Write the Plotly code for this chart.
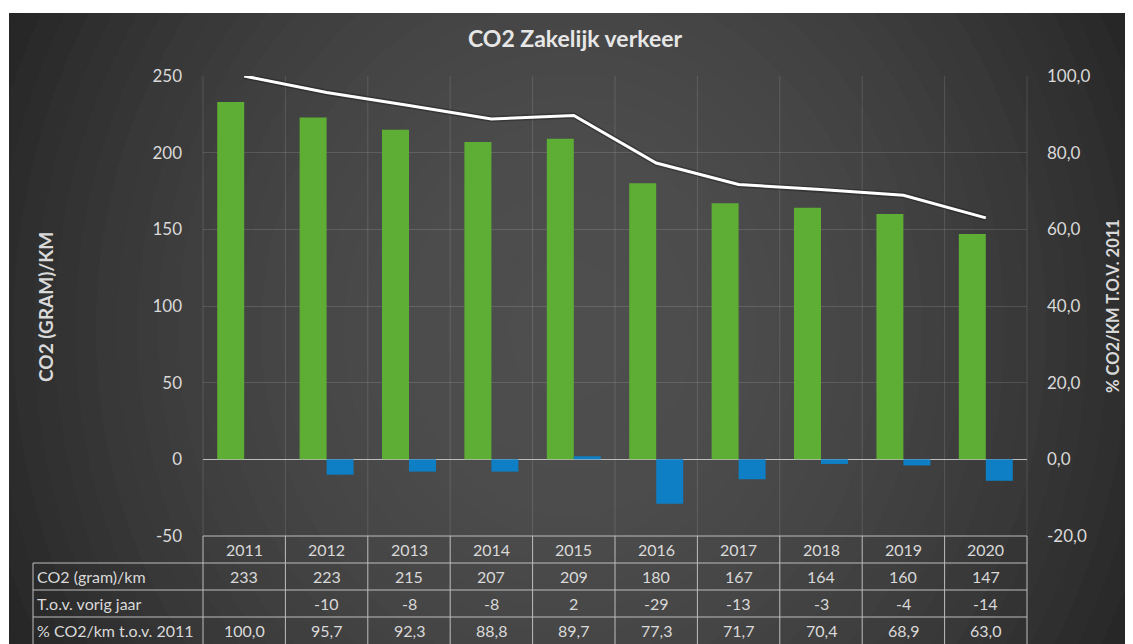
import plotly.graph_objects as go

# ---------------- data ----------------
years = ["2011", "2012", "2013", "2014", "2015", "2016", "2017", "2018", "2019", "2020"]
co2_gram_km = [233, 223, 215, 207, 209, 180, 167, 164, 160, 147]
tov_vorig_jaar = [None, -10, -8, -8, 2, -29, -13, -3, -4, -14]
pct_tov_2011 = [100.0, 95.7, 92.3, 88.8, 89.7, 77.3, 71.7, 70.4, 68.9, 63.0]
row_labels = ["CO2 (gram)/km", "T.o.v. vorig jaar", "% CO2/km t.o.v. 2011"]
left_tickvals = [-50, 0, 50, 100, 150, 200, 250]
left_ticktext = ["-50", "0", "50", "100", "150", "200", "250"]
right_tickvals = [-20, 0, 20, 40, 60, 80, 100]
right_ticktext = ["-20,0", "0,0", "20,0", "40,0", "60,0", "80,0", "100,0"]
title_text = "CO2 Zakelijk verkeer"
left_title = "CO2 (GRAM)/KM"
right_title = "% CO2/KM T.O.V. 2011"

# ---------------- layout geometry (screen pixels) ----------------
OFF = 8                      # page body margin in the browser
SCR_W, SCR_H = 1133, 644
W_FIG, H_FIG = SCR_W - OFF, SCR_H - OFF
L, R, T, B = 203, 1027, 76, 536   # plot area in screen pixels
PW, PH = R - L, B - T
ROW_H = 27

def px(x):
    return (x - L) / PW

def py(y):
    return (B - y) / PH

FONT = "Lato, 'Open Sans', sans-serif"
TXT = "#d9d9d9"
GRID = "rgba(255,255,255,0.13)"
TBL = "#bdbdbd"

fig = go.Figure()

fig.add_trace(go.Bar(x=years, y=co2_gram_km, name=row_labels[0],
                     marker=dict(color="#5eae35", line=dict(width=0)), yaxis="y"))
fig.add_trace(go.Bar(x=years, y=tov_vorig_jaar, name=row_labels[1],
                     marker=dict(color="#0e7fc4", line=dict(width=0)), yaxis="y"))
fig.add_trace(go.Scatter(x=years, y=pct_tov_2011, mode="lines", yaxis="y2",
                         line=dict(color="rgba(20,20,20,0.35)", width=6), hoverinfo="skip"))
fig.add_trace(go.Scatter(x=years, y=pct_tov_2011, mode="lines", name=row_labels[2], yaxis="y2",
                         line=dict(color="#ffffff", width=3)))

shapes = []
# background: radial gradient built from nested ellipses
cx, cy = 571, 330
rx, ry = 620, 700
def shade(r):
    v = 38 + 40 * (1 - min(r, 1.0) ** 2)
    v = int(round(v))
    return f"rgb({v},{v},{v})"
shapes.append(dict(type="rect", xref="paper", yref="paper", layer="below",
                   x0=px(9), x1=px(SCR_W + 20), y0=py(13), y1=py(SCR_H + 20),
                   fillcolor=shade(1.0), line=dict(width=0)))
n = 30
for k in range(n):
    s = 1.0 - k / n
    shapes.append(dict(type="circle", xref="paper", yref="paper", layer="below",
                       x0=px(cx - rx * s), x1=px(cx + rx * s),
                       y0=py(cy + ry * s), y1=py(cy - ry * s),
                       fillcolor=shade(s - 0.5 / n), line=dict(width=0)))
# white strips outside the chart frame
shapes.append(dict(type="rect", xref="paper", yref="paper", layer="below",
                   x0=px(-50), x1=px(9), y0=py(-50), y1=py(SCR_H + 50),
                   fillcolor="white", line=dict(width=0)))
shapes.append(dict(type="rect", xref="paper", yref="paper", layer="below",
                   x0=px(-50), x1=px(SCR_W + 50), y0=py(-50), y1=py(13),
                   fillcolor="white", line=dict(width=0)))

N = len(years)
# vertical gridlines at category boundaries
for i in range(N + 1):
    shapes.append(dict(type="line", xref="paper", yref="paper", layer="below",
                       x0=i / N, x1=i / N, y0=0, y1=1, line=dict(color=GRID, width=1)))

# data table lines
y_rows = [B + ROW_H * j for j in range(5)]
for i in range(N + 1):
    shapes.append(dict(type="line", xref="paper", yref="paper", layer="above",
                       x0=i / N, x1=i / N, y0=py(y_rows[0]), y1=py(SCR_H + 2),
                       line=dict(color=TBL, width=1)))
shapes.append(dict(type="line", xref="paper", yref="paper", layer="above",
                   x0=px(33), x1=px(33), y0=py(y_rows[1]), y1=py(SCR_H + 2),
                   line=dict(color=TBL, width=1)))
shapes.append(dict(type="line", xref="paper", yref="paper", layer="above",
                   x0=0, x1=1, y0=py(y_rows[0]), y1=py(y_rows[0]),
                   line=dict(color=TBL, width=1)))
for j in (1, 2, 3):
    shapes.append(dict(type="line", xref="paper", yref="paper", layer="above",
                       x0=px(33), x1=1, y0=py(y_rows[j]), y1=py(y_rows[j]),
                       line=dict(color=TBL, width=1)))

annotations = []
tf = dict(family=FONT, size=16, color=TXT)
def fmt_pct(v):
    return f"{v:.1f}".replace(".", ",")
rows = [
    years,
    [str(v) for v in co2_gram_km],
    ["" if v is None else str(v) for v in tov_vorig_jaar],
    [fmt_pct(v) for v in pct_tov_2011],
]
for j, row in enumerate(rows):
    yc = py(y_rows[j] + ROW_H / 2)
    for i, txt in enumerate(row):
        if txt:
            annotations.append(dict(x=(i + 0.5) / N, xref="paper", y=yc, yref="paper", text=txt,
                                    showarrow=False, font=tf, xanchor="center", yanchor="middle"))
for j, lab in enumerate(row_labels):
    annotations.append(dict(x=px(35), xref="paper", y=py(y_rows[j + 1] + ROW_H / 2), yref="paper",
                            text=lab, showarrow=False, font=tf, xanchor="left", yanchor="middle"))

# axis titles
annotations.append(dict(x=px(45), xref="paper", y=py(307), yref="paper", text=f"<b>{left_title}</b>",
                        textangle=-90, showarrow=False, font=dict(family=FONT, size=19, color=TXT),
                        xanchor="center", yanchor="middle"))
annotations.append(dict(x=px(1113), xref="paper", y=py(306), yref="paper", text=f"<b>{right_title}</b>",
                        textangle=-90, showarrow=False, font=dict(family=FONT, size=16.5, color=TXT),
                        xanchor="center", yanchor="middle"))

fig.update_layout(
    width=W_FIG, height=H_FIG,
    margin=dict(l=L - OFF, r=SCR_W - R, t=T - OFF, b=SCR_H - B, pad=0),
    paper_bgcolor="white", plot_bgcolor="rgba(0,0,0,0)",
    separators=",.",
    showlegend=False,
    barmode="group", bargap=0.345, bargroupgap=0,
    title=dict(text=f"<b>{title_text}</b>", x=(575 - OFF) / W_FIG, y=1 - (39 - OFF) / H_FIG,
               xref="container", yref="container", xanchor="center", yanchor="middle",
               font=dict(family=FONT, size=23, color="#e6e6e6")),
    xaxis=dict(type="category", range=[-0.5, N - 0.5], showgrid=False, showticklabels=False,
               zeroline=False, showline=False, ticks=""),
    yaxis=dict(range=[-50, 250], tickmode="array", tickvals=left_tickvals, ticktext=left_ticktext,
               showgrid=True, gridcolor=GRID, gridwidth=1,
               zeroline=True, zerolinecolor="#bdbdbd", zerolinewidth=1, showline=False,
               tickfont=dict(family=FONT, size=17, color=TXT), ticks="", ticklabelstandoff=20),
    yaxis2=dict(range=[-20, 100], tickmode="array", tickvals=right_tickvals, ticktext=right_ticktext,
                overlaying="y", side="right", showgrid=False, zeroline=False, showline=False,
                tickfont=dict(family=FONT, size=17, color=TXT), ticks="", ticklabelstandoff=19),
    shapes=shapes,
    annotations=annotations,
)

fig.write_html("out.html")
